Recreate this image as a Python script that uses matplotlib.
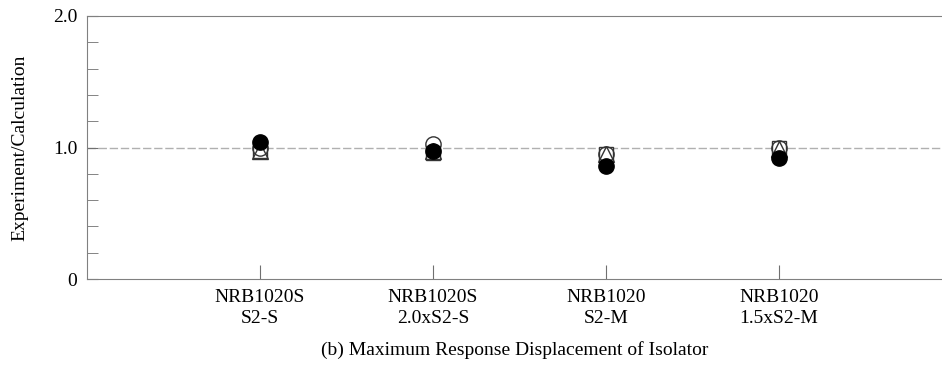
import matplotlib
matplotlib.use('Agg')
import matplotlib.pyplot as plt
from matplotlib.ticker import MultipleLocator, FixedLocator

plt.rcParams['font.family'] = ['Liberation Serif', 'DejaVu Serif']

# 試験体
categories = ['NRB1020S\nS2-S', 'NRB1020S\n2.0xS2-S', 'NRB1020\nS2-M', 'NRB1020\n1.5xS2-M']
positions = [1, 2, 3, 4]

# Experiment/Calculation ratios
open_circle = [1.00, 1.03, 0.95, 1.00]
open_square = [0.97, 0.96, 0.95, 1.00]
open_triangle = [0.97, 0.97, 0.95, 0.99]
filled_circle = [1.04, 0.97, 0.86, 0.92]

fig = plt.figure(figsize=(9.42, 3.67), dpi=100)
ax = fig.add_axes([87 / 942, 1 - 279 / 367, 1 - 87 / 942, 263 / 367])

ax.axhline(1.0, color='#b0b0b0', lw=1, ls=(0, (6, 2)), zorder=1)

ax.plot(positions, open_square, 's', ms=10, mfc='white', mec='#333333', mew=1, zorder=3)
ax.plot(positions, open_triangle, '^', ms=11, mfc='none', mec='#333333', mew=1, zorder=4)
ax.plot(positions, open_circle, 'o', ms=11, mfc='none', mec='#333333', mew=1, zorder=4)
ax.plot(positions, filled_circle, 'o', ms=11, mfc='black', mec='black', zorder=5)

ax.set_xlim(0, 855 / 173)
ax.set_ylim(0, 2.0)
ax.yaxis.set_major_locator(FixedLocator([0, 1.0, 2.0]))
ax.set_yticklabels(['0', '1.0', '2.0'])
ax.yaxis.set_minor_locator(MultipleLocator(0.2))
ax.xaxis.set_major_locator(FixedLocator(positions))
ax.set_xticklabels(categories, fontsize=14, linespacing=1.35)

ax.tick_params(axis='both', which='both', direction='in', color='#707070')
ax.tick_params(axis='y', which='major', length=8, labelsize=14, pad=7)
ax.tick_params(axis='y', which='minor', length=8)
ax.tick_params(axis='x', which='major', length=10, pad=7)

for s in ['top', 'left', 'bottom']:
    ax.spines[s].set_color('#808080')
ax.spines['right'].set_visible(False)

ax.set_ylabel('Experiment/Calculation', fontsize=14, labelpad=18)
ax.set_xlabel('(b) Maximum Response Displacement of Isolator', fontsize=14, labelpad=10)

plt.savefig('out.png', dpi=100)
